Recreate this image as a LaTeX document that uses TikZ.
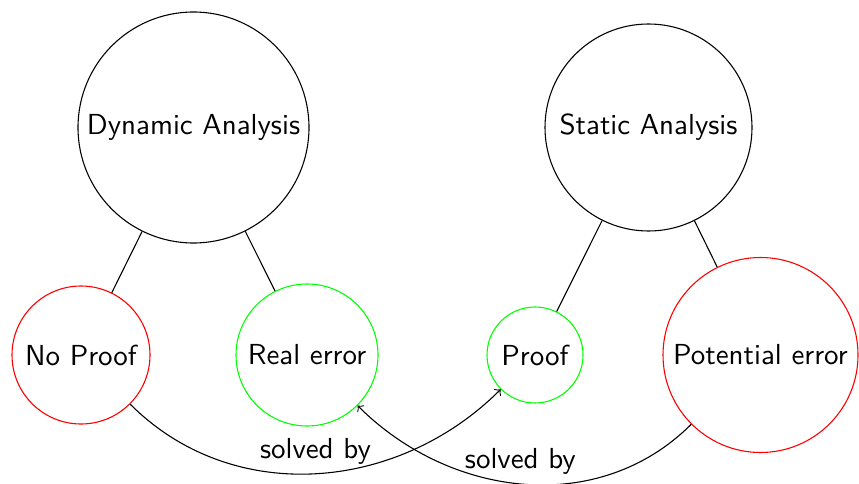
\documentclass[tikz,border=0pt]{standalone}
\renewcommand{\familydefault}{\sfdefault}
\begin{document}
\begin{tikzpicture}[x=0.01292cm, y=-0.01292cm,
  txt/.style={font=\sffamily\fontsize{10.65}{12.8}\selectfont},
  bubble/.style={circle, draw, inner sep=0pt, txt},
  redb/.style={bubble, draw=red},
  greenb/.style={bubble, draw=green},
  lbl/.style={txt, midway, above}]
\useasboundingbox (0,0) rectangle (859,484);
\node[bubble, minimum size=231*0.01292cm] (dyn) at (193.5,127.5) {Dynamic Analysis};
\node[bubble, minimum size=207*0.01292cm] (sta) at (648.5,127.5) {Static Analysis};
\node[redb, minimum size=138*0.01292cm] (np) at (81,355) {No Proof};
\node[greenb, minimum size=142*0.01292cm] (re) at (307,355) {Real error};
\node[greenb, minimum size=96*0.01292cm] (pr) at (535,355) {Proof};
\node[redb, minimum size=195*0.01292cm] (pe) at (760.5,355) {Potential error};
\draw (dyn) -- (np);
\draw (dyn) -- (re);
\draw (sta) -- (pr);
\draw (sta) -- (pe);
\draw[->] (np.-45) to[out=-45, in=225] node[lbl] {solved by} (pr.225);
\draw[->] (pe.225) to[out=225, in=-45] node[lbl, xshift=-4*0.01292cm] {solved by} (re.-45);
\end{tikzpicture}
\end{document}
